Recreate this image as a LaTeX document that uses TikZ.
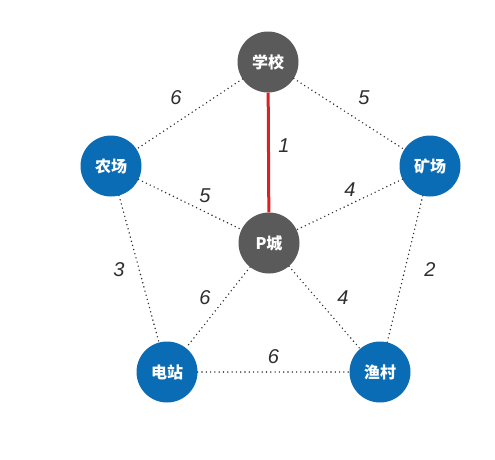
\documentclass[tikz,border=0pt]{standalone}
\usepackage{fontspec}
\usepackage{xcolor}
\usepackage{tikz}
\usetikzlibrary{positioning, calc}
\newfontfamily\cjk{Noto Sans CJK SC}
\newfontfamily\numfont{Liberation Sans}
\definecolor{towngray}{HTML}{5A5A5A}
\definecolor{siteblue}{HTML}{0A6CB4}
\definecolor{roadred}{HTML}{DA2020}
\definecolor{dotgray}{HTML}{2E2E2E}
\tikzstyle{hubnode} = [circle, minimum size=61pt, inner sep=0pt, fill=towngray,
  text=white, font=\cjk\bfseries\fontsize{16}{16}\selectfont]
\tikzstyle{sitenode} = [circle, minimum size=61pt, inner sep=0pt, fill=siteblue,
  text=white, font=\cjk\bfseries\fontsize{16}{16}\selectfont]
\tikzstyle{road} = [dotgray, line width=1.6pt, line cap=round, dash pattern=on 0pt off 4.3pt]
\tikzstyle{chosen} = [roadred, line width=3pt]
\tikzstyle{cost} = [font=\numfont\itshape\fontsize{20}{20}\selectfont, text=dotgray]

\begin{document}
\begin{tikzpicture}[x=1pt, y=-1pt]
  \useasboundingbox (0,0) rectangle (495,459);

  % Towns
  \node (school) [hubnode] at (268,62) {学校};
  \node (pcity) [hubnode] at (269,243) {P城};

  % Sites
  \node (farm) [sitenode] at (111,166) {农场};
  \node (mine) [sitenode] at (430,166) {矿场};
  \node (plant) [sitenode] at (167,372) {电站};
  \node (village) [sitenode] at (380,372) {渔村};

  % Roads
  \draw[road] (school) -- node[cost, xshift=-13.5pt, yshift=16pt] {6} (farm);
  \draw[road] (school) -- node[cost, xshift=15pt, yshift=16pt] {5} (mine);
  \draw[road] (farm) -- node[cost, xshift=15pt, yshift=8.5pt] {5} (pcity);
  \draw[road] (mine) -- node[cost, xshift=0.5pt, yshift=14.5pt] {4} (pcity);
  \draw[road] (farm) -- node[cost, xshift=-20pt, yshift=-1pt] {3} (plant);
  \draw[road] (mine) -- node[cost, xshift=25pt, yshift=-1pt] {2} (village);
  \draw[road] (pcity) -- node[cost, xshift=-13pt, yshift=9.5pt] {6} (plant);
  \draw[road] (pcity) -- node[cost, xshift=18.5pt, yshift=9.5pt] {4} (village);
  \draw[road] (plant) -- node[cost, xshift=0pt, yshift=15pt] {6} (village);

  % Chosen road
  \draw[chosen] (school) -- node[cost, xshift=15.5pt, yshift=6.5pt] {1} (pcity);
\end{tikzpicture}
\end{document}
